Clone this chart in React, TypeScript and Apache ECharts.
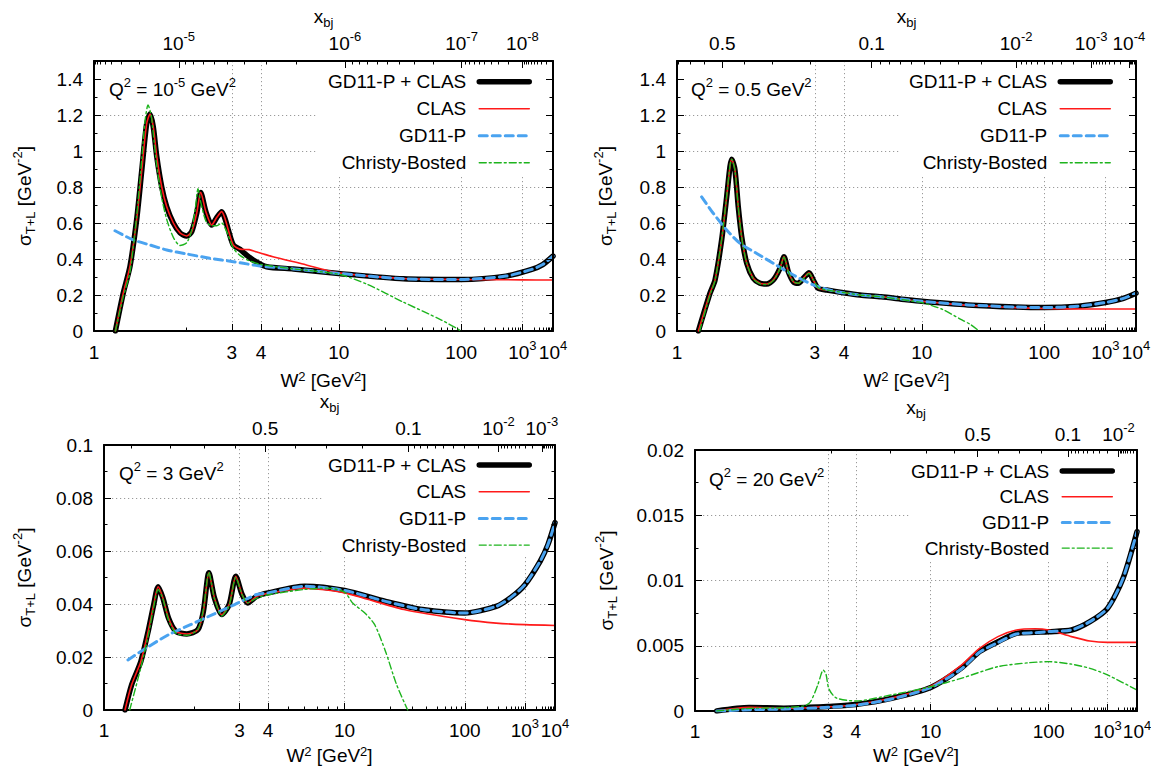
import React, { useEffect, useRef } from 'react';
import * as echarts from 'echarts';

const FONT = '"Liberation Sans", Arial, Helvetica, sans-serif';
const M2 = 0.88035; // proton mass squared [GeV^2]

const SERIES_NAMES = ['GD11-P + CLAS', 'CLAS', 'GD11-P', 'Christy-Bosted'];

// ---------- bottom axis (W^2) ticks ----------
const W2_MAJOR = [1, 3, 4, 10, 100, 1000, 10000];
const W2_MAJOR_LABELS = ['{a|1}', '{a|3}', '{a|4}', '{a|10}', '{a|100}', '{a|10}{s|3}', '{a|10}{s|4}'];
const W2_MINOR = [2, 5, 6, 7, 8, 9, 20, 30, 40, 50, 60, 70, 80, 90, 200, 300, 400, 500, 600, 700, 800, 900,
  2000, 3000, 4000, 5000, 6000, 7000, 8000, 9000];

// ---------- Q^2 of each panel ----------
const Q2 = [1e-5, 0.5, 3, 20];
const Q2_TEXT = [
  '{a|Q}{s|2}{a| = 10}{s|-5}{a| GeV}{s|2}',
  '{a|Q}{s|2}{a| = 0.5 GeV}{s|2}',
  '{a|Q}{s|2}{a| = 3 GeV}{s|2}',
  '{a|Q}{s|2}{a| = 20 GeV}{s|2}',
];

// ---------- top axis (x_bj) ticks ----------
const XBJ_P1 = [1e-5, 1e-6, 1e-7, 1e-8];
const XBJ_P1_LABELS = ['{a|10}{s|-5}', '{a|10}{s|-6}', '{a|10}{s|-7}', '{a|10}{s|-8}'];
const XBJ_P2 = [0.5, 0.1, 1e-2, 1e-3, 1e-4];
const XBJ_P2_LABELS = ['{a|0.5}', '{a|0.1}', '{a|10}{s|-2}', '{a|10}{s|-3}', '{a|10}{s|-4}'];
const XBJ_P3 = [0.5, 0.1, 1e-2, 1e-3];
const XBJ_P3_LABELS = ['{a|0.5}', '{a|0.1}', '{a|10}{s|-2}', '{a|10}{s|-3}'];
const XBJ_P4 = [0.5, 0.1, 1e-2];
const XBJ_P4_LABELS = ['{a|0.5}', '{a|0.1}', '{a|10}{s|-2}'];

// ---------- y ticks ----------
const Y12_MAJOR = [0, 0.2, 0.4, 0.6, 0.8, 1, 1.2, 1.4];
const Y12_LABELS = ['0', '0.2', '0.4', '0.6', '0.8', '1', '1.2', '1.4'];
const Y12_MINOR = [0.1, 0.3, 0.5, 0.7, 0.9, 1.1, 1.3];
const Y3_MAJOR = [0, 0.02, 0.04, 0.06, 0.08, 0.1];
const Y3_LABELS = ['0', '0.02', '0.04', '0.06', '0.08', '0.1'];
const Y3_MINOR = [0.01, 0.03, 0.05, 0.07, 0.09];
const Y4_MAJOR = [0, 0.005, 0.01, 0.015, 0.02];
const Y4_LABELS = ['0', '0.005', '0.01', '0.015', '0.02'];
const Y4_MINOR = [0.0025, 0.0075, 0.0125, 0.0175];

// ---------- Panel 1 : Q^2 = 1e-5 GeV^2 ----------
const p1FitW2 = [1.16, 1.227, 1.289, 1.354, 1.406, 1.459, 1.497, 1.535, 1.577, 1.64, 1.706, 1.799, 1.9, 2.008, 2.095,
  2.186, 2.263, 2.37, 2.493, 2.608, 2.729, 2.82, 2.902, 3.041, 3.241, 3.4, 3.697, 4.24, 5.68, 10, 27.7, 100, 454,
  1730, 3815, 10000];
const p1Fit = [0, 0.21, 0.36, 0.62, 0.89, 1.15, 1.205, 1.135, 0.97, 0.8, 0.69, 0.6, 0.545, 0.528, 0.552,
  0.654, 0.77, 0.66, 0.589, 0.63, 0.663, 0.62, 0.561, 0.478, 0.454, 0.43, 0.394, 0.357, 0.345, 0.32, 0.29, 0.286, 0.305,
  0.342, 0.369, 0.416];
const p1ClasW2 = [1.16, 1.227, 1.289, 1.354, 1.406, 1.459, 1.497, 1.535, 1.577, 1.64, 1.706, 1.799, 1.9, 2.008, 2.095,
  2.186, 2.263, 2.37, 2.493, 2.608, 2.729, 2.82, 2.902, 3.041, 3.241, 3.55, 3.8, 4.53, 6.13, 10, 27.7, 100, 1000, 10000];
const p1Clas = [0, 0.21, 0.36, 0.62, 0.89, 1.15, 1.205, 1.135, 0.97, 0.8, 0.69, 0.6, 0.545, 0.528, 0.552,
  0.654, 0.77, 0.66, 0.589, 0.63, 0.663, 0.62, 0.561, 0.478, 0.455, 0.452, 0.44, 0.413, 0.376, 0.323, 0.292, 0.286, 0.284, 0.283];
const p1GdW2 = [1.157, 1.32, 1.497, 1.706, 2.008, 2.455, 3.041, 3.697, 4.24, 5.68, 10, 27.7, 100, 454, 1730, 3815, 10000];
const p1Gd = [0.557, 0.506, 0.478, 0.45, 0.428, 0.404, 0.385, 0.367, 0.357, 0.345, 0.32, 0.29, 0.286, 0.305, 0.342, 0.369, 0.416];
const p1CbW2 = [1.16, 1.227, 1.289, 1.354, 1.406, 1.44, 1.475, 1.51, 1.535, 1.577, 1.64, 1.706, 1.799, 1.9, 2.008, 2.095,
  2.16, 2.21, 2.26, 2.37, 2.493, 2.608, 2.729, 2.82, 2.902, 3.041, 3.241, 3.554, 3.987, 5.68, 10, 15, 27.7, 58.8, 100];
const p1Cb = [0, 0.19, 0.33, 0.64, 0.95, 1.16, 1.256, 1.2, 1.1, 0.92, 0.74, 0.62, 0.52, 0.475, 0.49, 0.56,
  0.68, 0.79, 0.72, 0.61, 0.585, 0.585, 0.6, 0.57, 0.53, 0.46, 0.42, 0.39, 0.37, 0.345, 0.315, 0.26, 0.16, 0.065, 0];

// ---------- Panel 2 : Q^2 = 0.5 GeV^2 ----------
const p2FitW2 = [1.16, 1.261, 1.308, 1.374, 1.427, 1.463, 1.482, 1.52, 1.559, 1.601, 1.666, 1.755, 1.853, 1.958, 2.07,
  2.191, 2.268, 2.355, 2.462, 2.575, 2.694, 2.84, 2.956, 3.099, 3.362, 3.969, 4.73, 6, 8, 10, 20, 50, 100, 300, 1000,
  3000, 10000];
const p2Fit = [0, 0.21, 0.283, 0.506, 0.746, 0.913, 0.954, 0.894, 0.69, 0.524, 0.376, 0.293, 0.265, 0.261, 0.283,
  0.348, 0.413, 0.33, 0.274, 0.265, 0.293, 0.324, 0.283, 0.237, 0.228, 0.213, 0.2, 0.19, 0.175, 0.165, 0.145, 0.133, 0.13,
  0.138, 0.158, 0.18, 0.21];
const p2ClasW2 = [1.16, 1.261, 1.308, 1.374, 1.427, 1.463, 1.482, 1.52, 1.559, 1.601, 1.666, 1.755, 1.853, 1.958, 2.07,
  2.191, 2.268, 2.355, 2.462, 2.575, 2.694, 2.84, 2.956, 3.099, 3.362, 3.969, 4.73, 6, 8, 10, 20, 50, 100, 200, 1000, 10000];
const p2Clas = [0, 0.21, 0.283, 0.506, 0.746, 0.913, 0.954, 0.894, 0.69, 0.524, 0.376, 0.293, 0.265, 0.261, 0.283,
  0.348, 0.413, 0.33, 0.274, 0.265, 0.293, 0.324, 0.283, 0.237, 0.228, 0.213, 0.2, 0.19, 0.175, 0.165, 0.143, 0.13, 0.125,
  0.123, 0.122, 0.122];
const p2GdW2 = [1.187, 1.291, 1.427, 1.58, 1.805, 2.07, 2.462, 2.956, 3.71, 4.73, 6, 8, 10, 20, 50, 100, 300, 1000, 3000, 10000];
const p2Gd = [0.745, 0.654, 0.561, 0.487, 0.431, 0.376, 0.311, 0.256, 0.218, 0.2, 0.19, 0.175, 0.165, 0.145, 0.133, 0.13,
  0.138, 0.158, 0.18, 0.21];
const p2CbW2 = [1.17, 1.261, 1.308, 1.374, 1.427, 1.463, 1.482, 1.52, 1.559, 1.601, 1.666, 1.755, 1.853, 1.958, 2.07,
  2.191, 2.268, 2.355, 2.462, 2.575, 2.694, 2.84, 2.956, 3.099, 3.362, 3.969, 4.73, 6, 8, 10, 13.4, 17.8, 21, 24.2];
const p2Cb = [0, 0.2, 0.28, 0.51, 0.75, 0.92, 0.955, 0.89, 0.69, 0.52, 0.375, 0.29, 0.262, 0.258, 0.28,
  0.345, 0.41, 0.33, 0.275, 0.265, 0.29, 0.32, 0.285, 0.24, 0.228, 0.214, 0.2, 0.19, 0.172, 0.158, 0.12, 0.065, 0.035, 0];

// ---------- Panel 3 : Q^2 = 3 GeV^2 ----------
const p3FitW2 = [1.16, 1.217, 1.303, 1.377, 1.437, 1.487, 1.543, 1.613, 1.711, 1.874, 2.057, 2.157, 2.264, 2.378, 2.542,
  2.722, 2.897, 3.077, 3.247, 3.559, 4, 6, 10, 18.6, 36.7, 100, 272, 500, 1000, 2660, 5000, 10000];
const p3Fit = [0, 0.0095, 0.0183, 0.0297, 0.0398, 0.0465, 0.0423, 0.0347, 0.0297, 0.0287, 0.0303, 0.0372, 0.0518, 0.0423,
  0.036, 0.0398, 0.0505, 0.0436, 0.0404, 0.0429, 0.0442, 0.0467, 0.0451, 0.041, 0.0379, 0.0366, 0.0391, 0.0425, 0.0473,
  0.0562, 0.0625, 0.0707];
const p3ClasW2 = [1.16, 1.217, 1.303, 1.377, 1.437, 1.487, 1.543, 1.613, 1.711, 1.874, 2.057, 2.157, 2.264, 2.378, 2.542,
  2.722, 2.897, 3.077, 3.247, 3.559, 4, 6, 10, 25.7, 100, 272, 1000, 10000];
const p3Clas = [0, 0.0095, 0.0183, 0.0297, 0.0398, 0.0465, 0.0423, 0.0347, 0.0297, 0.0287, 0.0303, 0.0372, 0.0518, 0.0423,
  0.036, 0.0398, 0.0505, 0.0436, 0.0404, 0.0429, 0.044, 0.046, 0.0442, 0.0379, 0.0341, 0.0328, 0.0322, 0.0319];
const p3GdW2 = [1.185, 1.358, 1.613, 1.932, 2.34, 2.866, 3.559, 4, 6, 10, 18.6, 36.7, 100, 272, 500, 1000, 2660, 5000, 10000];
const p3Gd = [0.0189, 0.0234, 0.0284, 0.0322, 0.036, 0.0398, 0.0436, 0.0442, 0.0467, 0.0451, 0.041, 0.0379, 0.0366, 0.0391,
  0.0425, 0.0473, 0.0562, 0.0625, 0.0707];
const p3CbW2 = [1.2, 1.303, 1.377, 1.437, 1.487, 1.543, 1.613, 1.711, 1.874, 2.057, 2.157, 2.264, 2.378, 2.542, 2.722,
  2.897, 3.077, 3.247, 3.559, 4, 6, 8, 10, 11.2, 13.4, 15.6, 18.6, 22.5, 27.5];
const p3Cb = [0, 0.016, 0.028, 0.039, 0.0455, 0.042, 0.034, 0.029, 0.0282, 0.0305, 0.038, 0.052, 0.042, 0.0355, 0.0395,
  0.05, 0.0435, 0.0405, 0.0422, 0.0435, 0.0455, 0.046, 0.0445, 0.0404, 0.0366, 0.0322, 0.0221, 0.0095, 0];

// ---------- Panel 4 : Q^2 = 20 GeV^2 ----------
const p4FitW2 = [1.17, 1.5, 2, 2.5, 3, 4, 6, 10, 15.8, 21.6, 30.5, 44.8, 70, 100, 205, 420, 1000, 2760, 10000];
const p4Fit = [0, 0.00026, 0.00022, 0.00028, 0.00035, 0.0005, 0.00097, 0.0018, 0.00327, 0.00455, 0.00531, 0.00595, 0.00603,
  0.00608, 0.00621, 0.00685, 0.00787, 0.01017, 0.01374];
const p4ClasW2 = [1.17, 1.5, 2, 2.5, 2.8, 3, 4, 6, 10, 15.8, 21.6, 30.5, 44.8, 70, 100, 205, 420, 1000, 10000];
const p4Clas = [0, 0.00028, 0.0002, 0.00025, 0.00032, 0.00032, 0.0005, 0.001, 0.0019, 0.0035, 0.0048, 0.0057, 0.0062, 0.0063,
  0.0062, 0.0057, 0.00536, 0.00526, 0.00526];
const p4GdW2 = [1.17, 1.5, 2, 3, 4, 6, 10, 15.8, 21.6, 30.5, 44.8, 70, 100, 205, 420, 1000, 2760, 10000];
const p4Gd = [0, 0.0001, 0.00015, 0.00028, 0.00045, 0.00092, 0.0018, 0.0032, 0.0045, 0.00525, 0.0059, 0.006, 0.00608, 0.00621,
  0.00685, 0.00787, 0.01017, 0.01374];
const p4CbW2 = [1.17, 1.5, 2, 2.4, 2.542, 2.725, 2.873, 2.95, 3.033, 3.263, 4, 5.99, 10, 15.8, 30.5, 60, 100, 200, 420, 1000, 10000];
const p4Cb = [0, 0.0002, 0.00025, 0.0004, 0.0007, 0.002, 0.00314, 0.0028, 0.0017, 0.001, 0.00077, 0.00123, 0.00186, 0.0025,
  0.0034, 0.0037, 0.00378, 0.0036, 0.00327, 0.00276, 0.00161];

// ---------- axis transform: the W^2 axis halves every decade ----------
const u = (w2: number) => 1 - Math.pow(2, -Math.log10(w2));
const UMAX = u(10000);
const xbjToW2 = (x: number, q2: number) => M2 + q2 * (1 / x - 1);

const RICH: any = {
  a: { fontSize: 19, fontFamily: FONT, color: '#000', lineHeight: 26 },
  s: { fontSize: 13, fontFamily: FONT, color: '#000', lineHeight: 14, verticalAlign: 'top' },
  b: { fontSize: 13, fontFamily: FONT, color: '#000', lineHeight: 14, verticalAlign: 'bottom' },
};
const RICH_TIGHT: any = {
  a: { fontSize: 19, fontFamily: FONT, color: '#000', lineHeight: 20 },
  s: { fontSize: 13, fontFamily: FONT, color: '#000', lineHeight: 12, verticalAlign: 'top' },
};

const STYLES: any[] = [
  { color: '#000000', width: 5.5, type: 'solid' },
  { color: '#ff1a1a', width: 1.6, type: 'solid' },
  { color: '#4aa3f0', width: 3, type: [8, 5] },
  { color: '#1db41d', width: 1.4, type: [7, 3, 2, 3] },
];

const GRID_LINE = { color: '#9a9a9a', width: 1, type: [1.2, 2.8] };

function xbjMinorW2(q2: number, majors: number[]) {
  const out: number[] = [];
  for (let n = -10; n <= 0; n++) {
    for (let k = 1; k <= 9; k++) {
      const x = k * Math.pow(10, n);
      if (x >= 1) continue;
      if (majors.some((m) => Math.abs(m - x) / m < 1e-6)) continue;
      const w = xbjToW2(x, q2);
      if (w > 1 && w < 10000) out.push(w);
    }
  }
  return out;
}

const PANELS = [
  {
    grid: { left: 94, top: 61, width: 459, height: 270 }, yMax: 1.5,
    yMajor: Y12_MAJOR, yLabels: Y12_LABELS, yMinor: Y12_MINOR,
    xbj: XBJ_P1, xbjLabels: XBJ_P1_LABELS, q2: Q2[0], q2Text: Q2_TEXT[0], q2Pos: [109, 89],
    legend: { right: 619, top: 71.7, gap: 7 }, box: [317, 62, 235, 114],
    yNameGap: 57, xNameGap: 39, topNameGap: 31, topMargin: 5, bottomMargin: 8,
    data: [[p1FitW2, p1Fit], [p1ClasW2, p1Clas], [p1GdW2, p1Gd], [p1CbW2, p1Cb]],
  },
  {
    grid: { left: 677, top: 61, width: 459, height: 270 }, yMax: 1.5,
    yMajor: Y12_MAJOR, yLabels: Y12_LABELS, yMinor: Y12_MINOR,
    xbj: XBJ_P2, xbjLabels: XBJ_P2_LABELS, q2: Q2[1], q2Text: Q2_TEXT[1], q2Pos: [691, 89],
    legend: { right: 38, top: 71.7, gap: 7 }, box: [899, 62, 236, 114],
    yNameGap: 59, xNameGap: 39, topNameGap: 29, topMargin: 5, bottomMargin: 8,
    data: [[p2FitW2, p2Fit], [p2ClasW2, p2Clas], [p2GdW2, p2Gd], [p2CbW2, p2Cb]],
  },
  {
    grid: { left: 104, top: 445, width: 451, height: 265 }, yMax: 0.1,
    yMajor: Y3_MAJOR, yLabels: Y3_LABELS, yMinor: Y3_MINOR,
    xbj: XBJ_P3, xbjLabels: XBJ_P3_LABELS, q2: Q2[2], q2Text: Q2_TEXT[2], q2Pos: [119, 473],
    legend: { right: 619, top: 455, gap: 6.7 }, box: [322, 446, 232, 111],
    yNameGap: 67, xNameGap: 35, topNameGap: 30, topMargin: 4, bottomMargin: 7,
    data: [[p3FitW2, p3Fit], [p3ClasW2, p3Clas], [p3GdW2, p3Gd], [p3CbW2, p3Cb]],
  },
  {
    grid: { left: 695, top: 450, width: 442, height: 261 }, yMax: 0.02,
    yMajor: Y4_MAJOR, yLabels: Y4_LABELS, yMinor: Y4_MINOR,
    xbj: XBJ_P4, xbjLabels: XBJ_P4_LABELS, q2: Q2[3], q2Text: Q2_TEXT[3], q2Pos: [709, 479],
    legend: { right: 36, top: 461, gap: 5.7 }, box: [910, 451, 226, 110],
    yNameGap: 76, xNameGap: 34, topNameGap: 28, topMargin: 3, bottomMargin: 7.5,
    data: [[p4FitW2, p4Fit], [p4ClasW2, p4Clas], [p4GdW2, p4Gd], [p4CbW2, p4Cb]],
  },
];

function labelFormatter(values: number[], labels: string[]) {
  return (v: number) => {
    const i = values.findIndex((t) => Math.abs(t - v) < 1e-9);
    return i >= 0 ? labels[i] : '';
  };
}

function buildOption() {
  const grid: any[] = [];
  const xAxis: any[] = [];
  const yAxis: any[] = [];
  const series: any[] = [];
  const legend: any[] = [];
  const graphic: any[] = [];

  const tickStyle = { color: '#000', width: 1 };
  const bottomMajorU = W2_MAJOR.map(u);
  const bottomMinorU = W2_MINOR.map(u);

  PANELS.forEach((p, g) => {
    grid.push({ ...p.grid, containLabel: false, outerBoundsMode: 'none' });

    const topMajorU = p.xbj.map((x) => u(xbjToW2(x, p.q2)));
    const topMinorU = xbjMinorW2(p.q2, p.xbj).map(u);

    // bottom major axis (labels, grid lines, title)
    xAxis.push({
      gridIndex: g, type: 'value', position: 'bottom', min: 0, max: UMAX, z: 0,
      name: '{a|W}{s|2}{a| [GeV}{s|2}{a|]}', nameLocation: 'middle', nameGap: p.xNameGap,
      nameTextStyle: { rich: RICH_TIGHT, lineHeight: 20 },
      axisLine: { show: true, onZero: false, lineStyle: { color: '#000', width: 2 } },
      axisTick: { show: true, inside: true, length: 7, customValues: bottomMajorU, lineStyle: tickStyle },
      axisLabel: {
        show: true, customValues: bottomMajorU, formatter: labelFormatter(bottomMajorU, W2_MAJOR_LABELS),
        rich: RICH, margin: p.bottomMargin, showMinLabel: true, showMaxLabel: true, hideOverlap: false,
      },
      splitLine: { show: true, showMinLine: false, showMaxLine: false, lineStyle: GRID_LINE },
      minorTick: { show: false }, minorSplitLine: { show: false },
    });
    // bottom minor ticks
    xAxis.push({
      gridIndex: g, type: 'value', position: 'bottom', min: 0, max: UMAX, z: 0,
      axisLine: { show: false, onZero: false },
      axisTick: { show: true, inside: true, length: 3.5, customValues: bottomMinorU, lineStyle: tickStyle },
      axisLabel: { show: false }, splitLine: { show: false },
    });
    // top major (x_bj)
    xAxis.push({
      gridIndex: g, type: 'value', position: 'top', min: 0, max: UMAX, z: 3,
      name: '{a|x}{b|bj}', nameLocation: 'middle', nameGap: p.topNameGap, nameTextStyle: { rich: RICH },
      axisLine: { show: true, onZero: false, lineStyle: { color: '#000', width: 2 } },
      axisTick: { show: true, inside: true, length: 7, customValues: topMajorU, lineStyle: tickStyle },
      axisLabel: {
        show: true, customValues: topMajorU, formatter: labelFormatter(topMajorU, p.xbjLabels),
        rich: RICH, margin: p.topMargin, showMinLabel: true, showMaxLabel: true, hideOverlap: false,
      },
      splitLine: { show: false },
    });
    // top minor
    xAxis.push({
      gridIndex: g, type: 'value', position: 'top', min: 0, max: UMAX, z: 3,
      axisLine: { show: false, onZero: false },
      axisTick: { show: true, inside: true, length: 3.5, customValues: topMinorU, lineStyle: tickStyle },
      axisLabel: { show: false }, splitLine: { show: false },
    });

    // left major
    yAxis.push({
      gridIndex: g, type: 'value', position: 'left', min: 0, max: p.yMax, z: 0,
      name: '{a|σ}{b|T+L}{a| [GeV}{s|-2}{a|]}', nameLocation: 'middle', nameGap: p.yNameGap, nameRotate: 90,
      nameTextStyle: { rich: RICH },
      axisLine: { show: true, onZero: false, lineStyle: { color: '#000', width: 2 } },
      axisTick: { show: true, inside: true, length: 7, customValues: p.yMajor, lineStyle: tickStyle },
      axisLabel: {
        show: true, customValues: p.yMajor, formatter: labelFormatter(p.yMajor, p.yLabels),
        fontSize: 19, fontFamily: FONT, color: '#000', margin: 11, showMinLabel: true, showMaxLabel: true,
      },
      splitLine: { show: true, showMinLine: false, showMaxLine: false, lineStyle: GRID_LINE },
    });
    // left minor
    yAxis.push({
      gridIndex: g, type: 'value', position: 'left', min: 0, max: p.yMax, z: 0,
      axisLine: { show: false, onZero: false },
      axisTick: { show: true, inside: true, length: 3.5, customValues: p.yMinor, lineStyle: tickStyle },
      axisLabel: { show: false }, splitLine: { show: false },
    });
    // right major (mirror)
    yAxis.push({
      gridIndex: g, type: 'value', position: 'right', min: 0, max: p.yMax, z: 3,
      axisLine: { show: true, onZero: false, lineStyle: { color: '#000', width: 2 } },
      axisTick: { show: true, inside: true, length: 7, customValues: p.yMajor, lineStyle: tickStyle },
      axisLabel: { show: false }, splitLine: { show: false },
    });
    // right minor
    yAxis.push({
      gridIndex: g, type: 'value', position: 'right', min: 0, max: p.yMax, z: 3,
      axisLine: { show: false, onZero: false },
      axisTick: { show: true, inside: true, length: 3.5, customValues: p.yMinor, lineStyle: tickStyle },
      axisLabel: { show: false }, splitLine: { show: false },
    });

    p.data.forEach(([w2, sig], k) => {
      series.push({
        type: 'line', name: SERIES_NAMES[k], xAxisIndex: g * 4, yAxisIndex: g * 4,
        data: (w2 as number[]).map((w, i) => [u(w), (sig as number[])[i]]),
        symbol: 'none', showSymbol: false, smooth: 0.25, clip: true, silent: true, z: 2,
        lineStyle: { ...STYLES[k], cap: 'round', join: 'round' },
        itemStyle: { color: STYLES[k].color },
      });
    });

    legend.push({
      show: true, orient: 'vertical', align: 'right', right: p.legend.right, top: p.legend.top,
      itemWidth: 50, itemHeight: 20, itemGap: p.legend.gap, padding: 0, selectedMode: false,
      data: SERIES_NAMES.map((name, k) => ({
        name,
        itemStyle: { opacity: 0, borderWidth: 0 },
        lineStyle: { color: STYLES[k].color, width: STYLES[k].width, type: STYLES[k].type, opacity: 1 },
      })),
      itemStyle: { opacity: 0, borderWidth: 0 },
      textStyle: { fontSize: 19, fontFamily: FONT, color: '#000', lineHeight: 20, padding: [0, 8, 0, 0] },
    });

    graphic.push({
      type: 'rect', silent: true, z: 1,
      shape: { x: p.box[0], y: p.box[1], width: p.box[2], height: p.box[3] },
      style: { fill: '#ffffff', stroke: null },
    });
    graphic.push({
      type: 'text', silent: true, z: 10, x: p.q2Pos[0], y: p.q2Pos[1],
      style: { text: p.q2Text, rich: RICH, align: 'left', verticalAlign: 'middle', fill: '#000', font: `19px ${FONT}` },
    });
  });

  return {
    animation: false,
    backgroundColor: '#ffffff',
    textStyle: { fontFamily: FONT, color: '#000' },
    grid, xAxis, yAxis, series, legend, graphic,
  };
}

export default function App() {
  const ref = useRef<HTMLDivElement>(null);
  useEffect(() => {
    if (!ref.current) return;
    const chart = echarts.init(ref.current, null, { renderer: 'svg' });
    chart.setOption(buildOption() as any);
    return () => chart.dispose();
  }, []);
  return (
    <div
      ref={ref}
      style={{ position: 'absolute', left: 0, top: 0, width: 1151, height: 766, background: '#fff' }}
    />
  );
}
